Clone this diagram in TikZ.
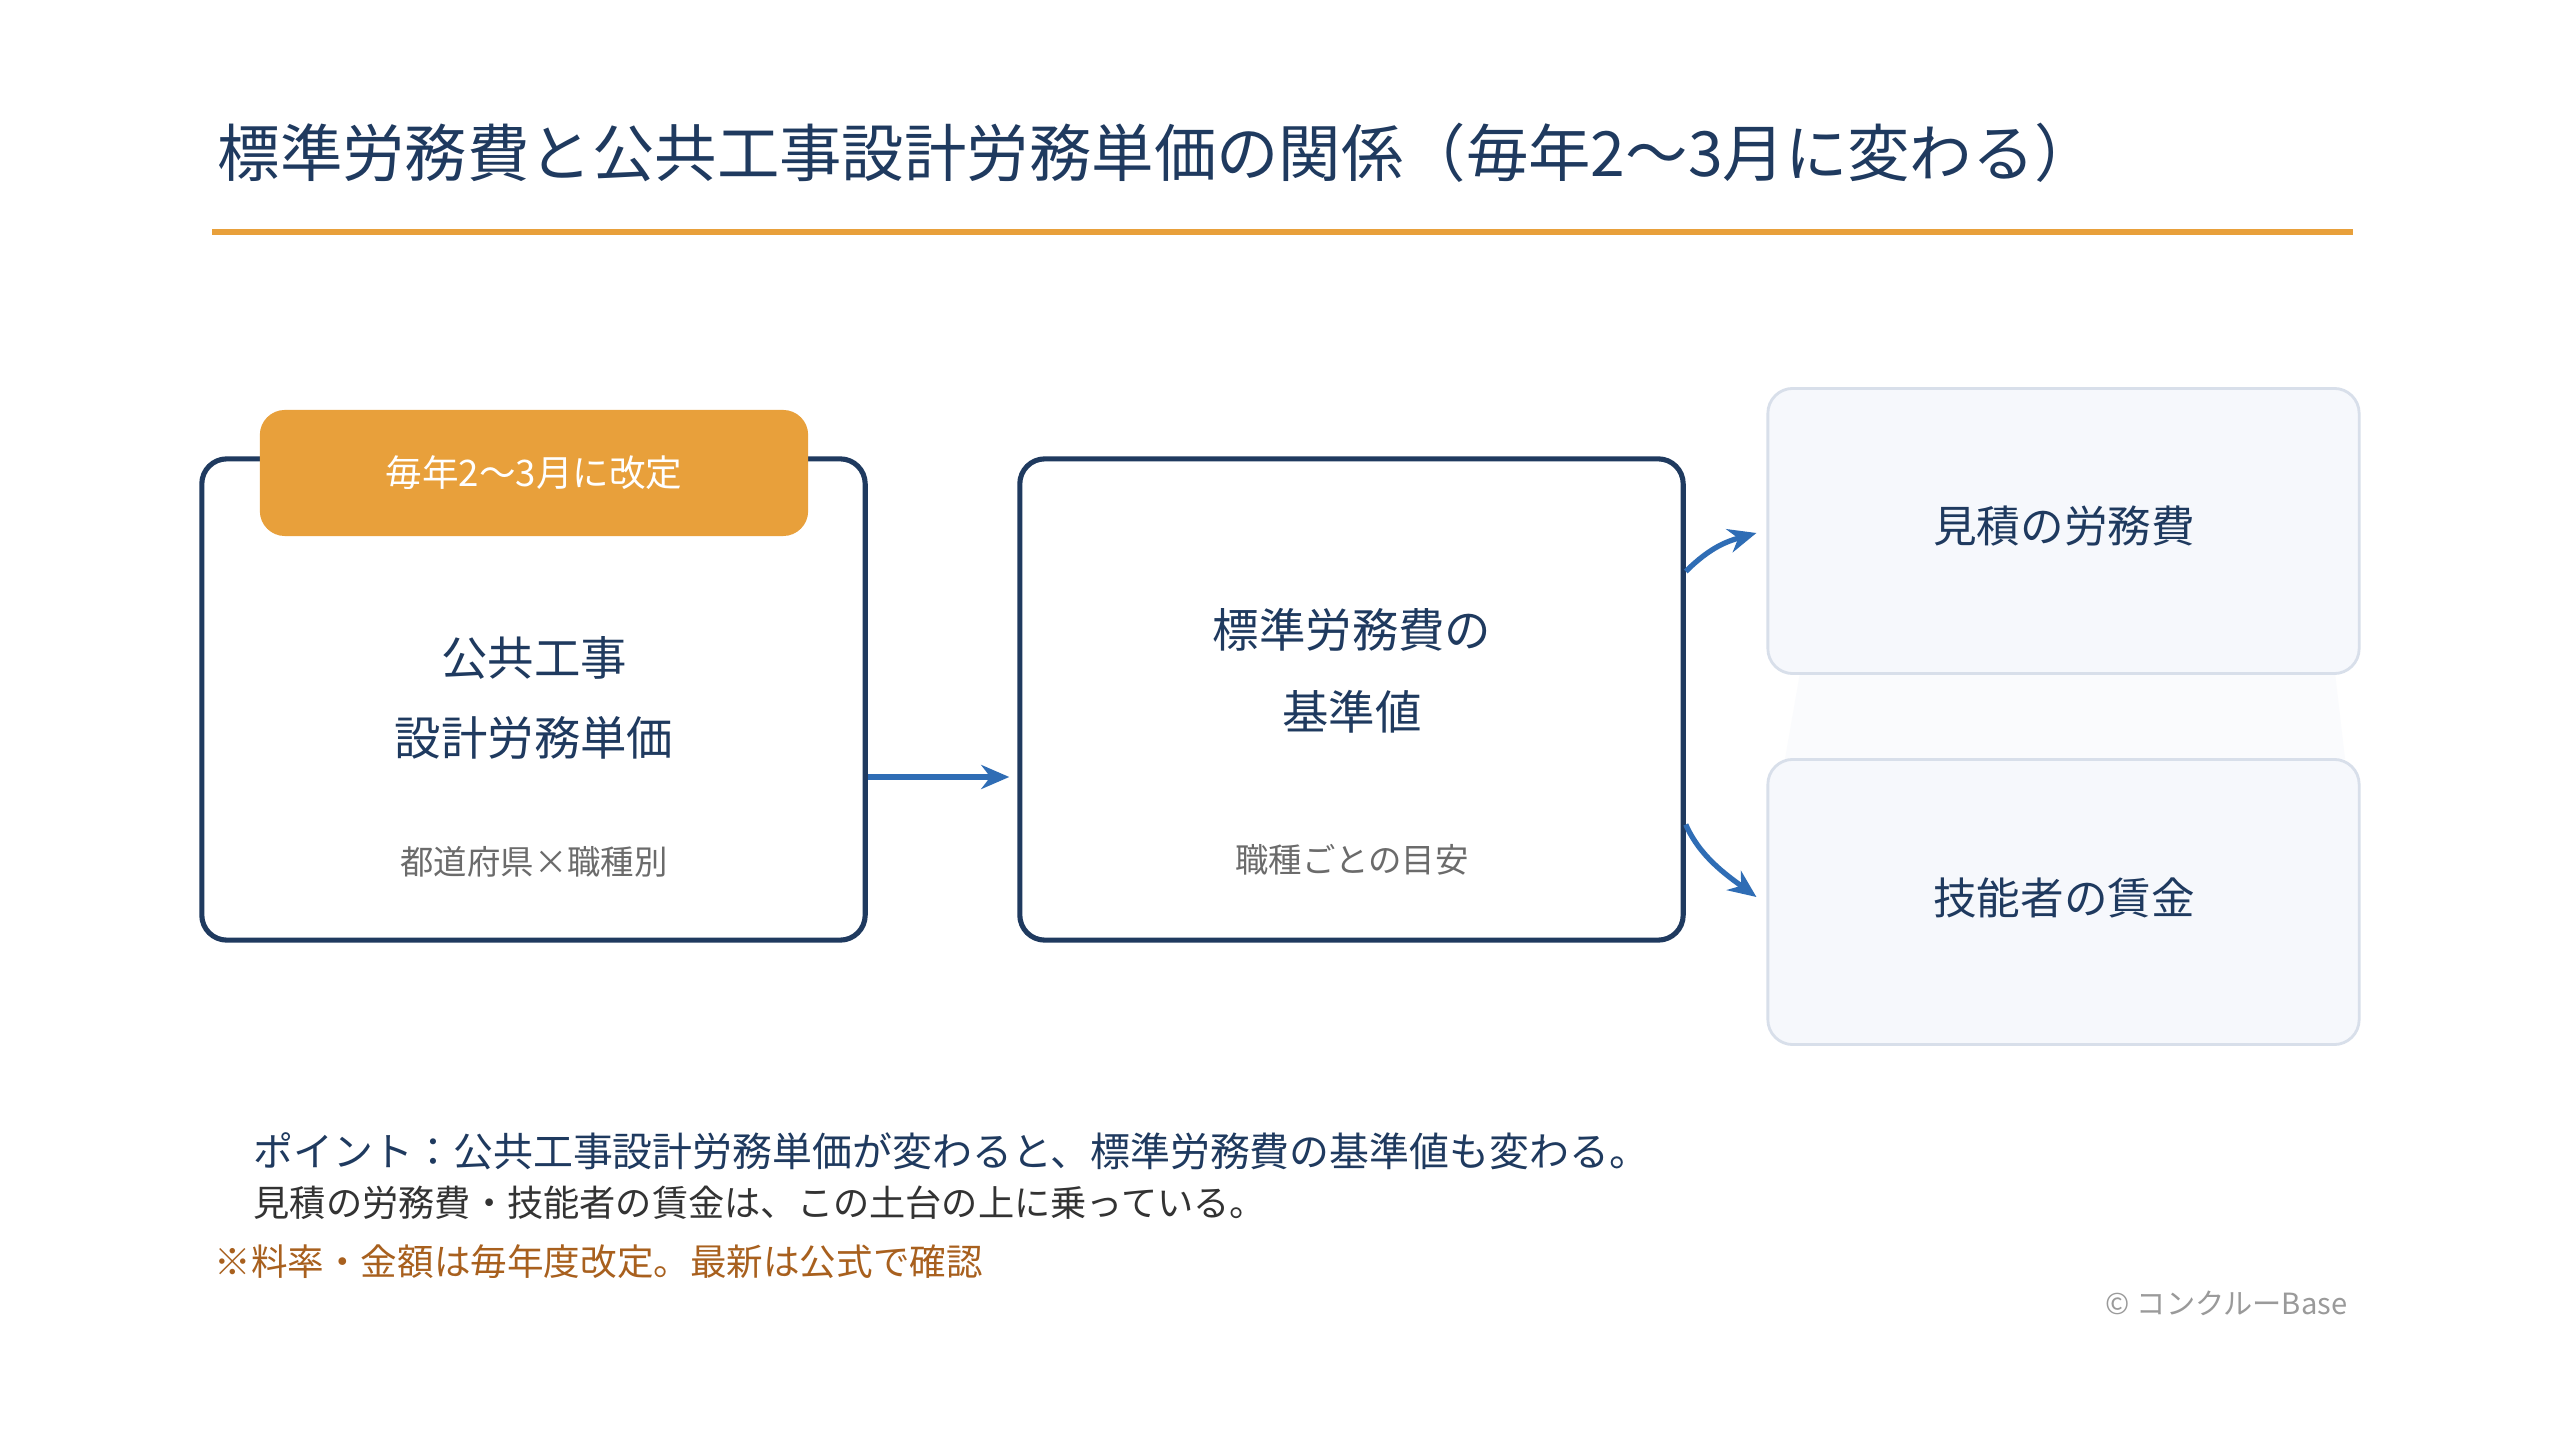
\documentclass[tikz,border=0pt]{standalone}
\usepackage{fontspec}
\setmainfont{Noto Sans CJK JP}
\usetikzlibrary{arrows.meta,calc}
\definecolor{navy}{HTML}{1F3A5F}
\definecolor{orng}{HTML}{E8A03B}
\definecolor{blu}{HTML}{2F6DB5}
\definecolor{subgray}{HTML}{6B6B6B}
\definecolor{lightfill}{HTML}{F6F8FC}
\definecolor{lightline}{HTML}{D8DFEA}
\definecolor{faintfill}{HTML}{FAFBFD}
\definecolor{notebrown}{HTML}{A8601E}
\definecolor{copygray}{HTML}{9A9A9A}
\definecolor{darktext}{HTML}{333333}
\begin{document}
\begin{tikzpicture}[x=0.01cm,y=-0.01cm,
  mainbox/.style={draw=navy,line width=1.45pt,rounded corners=0.25cm,fill=white,inner sep=0,minimum width=6.63cm,minimum height=4.81cm},
  sidebox/.style={draw=lightline,line width=0.8pt,rounded corners=0.25cm,fill=lightfill,inner sep=0,minimum width=5.91cm,minimum height=2.85cm},
  tagbox/.style={fill=orng,rounded corners=0.25cm,inner sep=0,minimum width=5.48cm,minimum height=1.26cm,text=white,font=\fontsize{10.4pt}{12pt}\selectfont},
  bigtxt/.style={text=navy,font=\fontsize{13.2pt}{16pt}\selectfont,inner sep=0},
  sidetxt/.style={text=navy,font=\fontsize{12.4pt}{15pt}\selectfont,inner sep=0},
  subtxt/.style={text=subgray,font=\fontsize{9.5pt}{12pt}\selectfont,inner sep=0},
  arr/.style={draw=blu,line width=1.5pt,-{Stealth[length=0.28cm,width=0.24cm]}},
  note/.style={anchor=west,inner sep=0}
]
\useasboundingbox[fill=white] (0,0) rectangle (2560,1440);

% title
\node[anchor=west,inner sep=0,text=navy,font=\fontsize{17.75pt}{22pt}\selectfont] (title) at (217,153) {標準労務費と公共工事設計労務単価の関係（毎年2〜3月に変わる）};
\coordinate (rl) at (212,232);
\coordinate (rr) at (2353,232);
\draw[orng,line width=1.7pt] (rl) -- (rr);

% faint band between side boxes
\fill[faintfill] (1800,673) -- (2335,673) -- (2345,759) -- (1785,759) -- cycle;

% boxes
\node[mainbox] (b1) at (533.5,699.5) {};
\node[tagbox] (tag) at (534,473) {毎年2〜3月に改定};
\node[bigtxt] (t1a) at (534,658) {公共工事};
\node[bigtxt] (t1b) at (534,738) {設計労務単価};
\node[subtxt] (s1) at (534,862) {都道府県×職種別};

\node[mainbox] (b2) at (1351.5,699.5) {};
\node[bigtxt] (t2a) at (1352,630) {標準労務費の};
\node[bigtxt] (t2b) at (1352,712) {基準値};
\node[subtxt] (s2) at (1352,860) {職種ごとの目安};

\node[sidebox] (b3) at (2063.5,531) {};
\node[sidetxt] (t3) at (2064,526) {見積の労務費};
\node[sidebox] (b4) at (2063.5,902) {};
\node[sidetxt] (t4) at (2064,898) {技能者の賃金};

% arrows
\draw[arr] ($(b1.east)+(0,77.5)$) -- ($(b2.west)+(-8,77.5)$);
\draw[arr] ($(b2.east)+(0,-128)$) .. controls +(25,-25) and +(-28,8) .. ($(b3.west)+(-10,2)$);
\draw[arr] ($(b2.east)+(0,125)$) .. controls +(14,32) and +(-30,-22) .. ($(b4.west)+(-10,-5)$);

% notes
\node[note,text=navy,font=\fontsize{11.35pt}{13pt}\selectfont] (n1) at (253,1151) {ポイント：公共工事設計労務単価が変わると、標準労務費の基準値も変わる。};
\node[note,text=darktext,font=\fontsize{10.3pt}{13pt}\selectfont] (n2) at (253,1203) {見積の労務費・技能者の賃金は、この土台の上に乗っている。};
\node[note,text=notebrown,font=\fontsize{10.4pt}{13pt}\selectfont] (n3) at (214,1262) {※料率・金額は毎年度改定。最新は公式で確認};
\node[anchor=east,inner sep=0,text=copygray,font=\fontsize{8.3pt}{10pt}\selectfont] (cp) at (2348,1303) {© コンクルーBase};
\end{tikzpicture}
\end{document}
